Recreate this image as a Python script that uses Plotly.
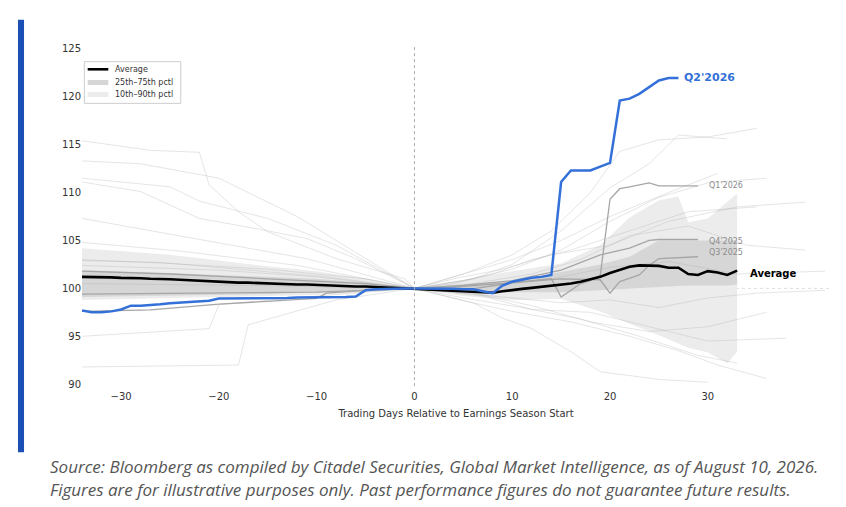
import plotly.graph_objects as go

# trading days relative to earnings season start
days = list(range(-34, 34))

avg_vals = [101.2, 101.2, 101.15, 101.15, 101.1, 101.1, 101.05, 101.0, 101.0, 100.95,
            100.9, 100.85, 100.75, 100.7, 100.7, 100.65, 100.6, 100.6, 100.55, 100.5,
            100.5, 100.45, 100.4, 100.4, 100.35, 100.35, 100.3, 100.25, 100.2, 100.2,
            100.15, 100.1, 100.05, 100.0, 100.0, 99.95, 99.9, 99.85, 99.8, 99.75,
            99.65, 99.6, 99.55, 99.7, 99.85, 99.95, 100.05, 100.15, 100.3, 100.4,
            100.5, 100.7, 100.95, 101.2, 101.6, 101.95, 102.25, 102.4, 102.4, 102.35,
            102.15, 102.15, 101.5, 101.4, 101.8, 101.65, 101.4, 101.85]

q2_days = list(range(-34, 28))
q2_vals = [97.7, 97.5, 97.5, 97.6, 97.8, 98.2, 98.2, 98.25, 98.35, 98.45,
           98.5, 98.55, 98.65, 98.7, 98.95, 98.95, 98.95, 98.95, 98.95, 98.95,
           98.95, 99.0, 99.05, 99.05, 99.1, 99.1, 99.1, 99.1, 99.15, 99.8,
           99.9, 99.95, 100.0, 100.0, 100.0, 100.0, 100.0, 99.95, 99.95, 99.9,
           99.9, 99.7, 99.5, 100.3, 100.7, 100.9, 101.1, 101.2, 101.4, 111.1,
           112.3, 112.3, 112.3, 112.7, 113.1, 119.6, 119.8, 120.3, 121.0, 121.7,
           121.95, 121.95]

# percentile bands
band_days = [-34, -30, -25, -20, -15, -10, -5, 0, 5, 10, 15, 19, 22, 25, 27, 28, 30, 32, 33]
p90 = [104.2, 103.9, 103.5, 102.9, 102.3, 101.8, 101.0, 100.0, 100.9, 101.8,
       102.6, 104.5, 107.4, 109.2, 109.6, 106.9, 107.3, 109.0, 109.9]
p75 = [101.9, 101.8, 101.6, 101.4, 101.2, 101.0, 100.6, 100.0, 100.4, 100.8,
       101.7, 102.5, 103.3, 105.0, 105.0, 105.0, 105.0, 105.0, 105.0]
p25 = [99.1, 99.15, 99.2, 99.3, 99.4, 99.6, 99.8, 100.0, 99.7, 99.6,
       99.6, 99.8, 100.0, 100.1, 100.2, 100.3, 100.3, 100.3, 100.4]
p10 = [98.8, 98.9, 99.0, 99.1, 99.2, 99.3, 99.6, 100.0, 99.2, 98.8,
       98.9, 97.6, 96.3, 95.1, 94.2, 93.8, 93.3, 92.2, 93.4]

# highlighted recent quarters
q1_26_days = [-34, -27, -20, -10, -9, -5, 0, 5, 10, 14, 15, 16, 17, 18, 19, 20, 21, 22, 24, 25, 29]
q1_26_vals = [97.6, 97.75, 98.35, 98.95, 99.5, 99.8, 100.0, 99.8, 100.6, 101.0, 99.1,
              99.8, 100.5, 100.8, 101.3, 109.3, 110.4, 110.6, 111.0, 110.7, 110.7]
q4_25_days = [-34, -25, -15, -5, 0, 5, 10, 15, 19, 22, 24, 25, 29]
q4_25_vals = [101.8, 101.5, 101.0, 100.5, 100.0, 100.3, 100.8, 101.9, 103.5, 104.2, 105.0, 105.1, 105.1]
q3_25_days = [-34, -20, -10, -5, 0, 5, 10, 15, 19, 20, 21, 23, 24, 25, 29]
q3_25_vals = [99.4, 99.5, 99.6, 99.8, 100.0, 100.2, 100.6, 101.0, 100.9, 99.5, 100.7, 101.4, 102.4, 103.1, 103.3]

# older quarters, faint background lines
hist_lines = [
    ([-34, -27, -22, -21, -18, -15, -8, -1, 0], [115.4, 114.4, 114.2, 110.8, 108.0, 105.9, 103.1, 101.0, 100]),
    ([-34, -25, -22, -15, -8, 0], [111.5, 110.6, 109.1, 107.3, 104.5, 100]),
    ([-34, -28, -22, -16, -11, -6, 0], [111.1, 110.1, 107.3, 106.2, 105.2, 103.1, 100]),
    ([-34, -28, -21, -11, 0], [107.3, 106.2, 104.9, 103.1, 100]),
    ([-34, -21, -20, -10, 0], [95.0, 95.8, 98.3, 99.2, 100]),
    ([-34, -18, -17, -8, 0], [91.8, 92.0, 96.2, 98.8, 100]),
    ([-34, -25, -15, -5, 0], [103.0, 102.6, 102.0, 101.0, 100]),
    ([-34, -20, -10, 0], [102.4, 101.9, 101.2, 100]),
    ([-34, -24, -12, 0], [104.8, 103.9, 102.4, 100]),
    ([-34, -28, -20, -12, -4, 0], [113.3, 113.0, 111.5, 107.5, 102.5, 100]),
    ([-34, -26, -18, -9, 0], [102.9, 102.7, 102.0, 101.2, 100]),
    ([-34, -25, -16, -7, 0], [100.5, 100.4, 100.3, 100.1, 100]),
    ([0, 5, 10, 14, 18, 21, 25, 30, 35], [100, 101.5, 103.5, 106, 110, 114.3, 115.5, 115.8, 116.7]),
    ([0, 6, 10, 15, 20, 24, 27, 32], [100, 101, 102.5, 106, 110.5, 113, 116, 115.6]),
    ([0, 5, 10, 15, 20, 25, 30, 36], [100, 100.8, 102, 104, 107, 109.5, 111, 111.5]),
    ([0, 5, 10, 15, 20, 26, 31], [100, 101.5, 103, 105, 107.5, 110, 112]),
    ([0, 4, 8, 12, 16, 22, 28, 35], [100, 100.5, 101.5, 103, 104, 106, 108, 108.5]),
    ([0, 6, 12, 17, 22, 28, 34, 40], [100, 100.5, 101.5, 103, 105.5, 106.5, 104.5, 104]),
    ([0, 8, 14, 20, 26, 33, 42], [100, 100.2, 101, 102.2, 102.8, 101.5, 101.8]),
    ([0, 4, 9, 14, 20, 26, 33, 40], [100, 101, 102, 103.5, 104.5, 107, 108.5, 109]),
    ([0, 5, 10, 15, 20, 25, 30, 35, 42], [100, 99.5, 99, 98.5, 98.8, 98.0, 99, 99.5, 99.8]),
    ([0, 6, 12, 18, 24, 30, 36], [100, 99.5, 98.2, 96.5, 95.5, 96, 97.5]),
    ([0, 7, 12, 18, 24, 30, 38], [100, 99.2, 97.8, 97.5, 96, 94.5, 94.8]),
    ([0, 5, 11, 17, 23, 29, 33], [100, 99.0, 98.0, 96.8, 95.0, 93.0, 92.2]),
    ([0, 5, 10, 16, 22, 27, 31, 36], [100, 98.7, 97.6, 96.5, 95, 93.5, 92, 90.6]),
    ([0, 6, 9, 12, 16, 19, 25, 30], [100, 98.5, 96.9, 95.8, 93.4, 91.3, 90.5, 90.2]),
]

BLUE = "#3370d8"
GREY_Q = "#a6a6a6"
LIGHT_BAND = "#ececec"
DARK_BAND = "#d6d6d6"

fig = go.Figure()

# 10th-90th band
fig.add_trace(go.Scatter(x=band_days, y=p10, mode="lines", line=dict(width=0),
                         showlegend=False, hoverinfo="skip"))
fig.add_trace(go.Scatter(x=band_days, y=p90, mode="lines", line=dict(width=0),
                         fill="tonexty", fillcolor=LIGHT_BAND, showlegend=False))
# 25th-75th band
fig.add_trace(go.Scatter(x=band_days, y=p25, mode="lines", line=dict(width=0),
                         showlegend=False, hoverinfo="skip"))
fig.add_trace(go.Scatter(x=band_days, y=p75, mode="lines", line=dict(width=0),
                         fill="tonexty", fillcolor=DARK_BAND, showlegend=False))

for hx, hy in hist_lines:
    fig.add_trace(go.Scatter(x=hx, y=hy, mode="lines",
                             line=dict(color="rgba(170,170,170,0.3)", width=1),
                             showlegend=False, hoverinfo="skip"))

for qx, qy in [(q3_25_days, q3_25_vals), (q4_25_days, q4_25_vals), (q1_26_days, q1_26_vals)]:
    fig.add_trace(go.Scatter(x=qx, y=qy, mode="lines", line=dict(color=GREY_Q, width=1.3),
                             showlegend=False))

fig.add_trace(go.Scatter(x=days, y=avg_vals, mode="lines", line=dict(color="black", width=2.6),
                         showlegend=False))
fig.add_trace(go.Scatter(x=q2_days, y=q2_vals, mode="lines", line=dict(color=BLUE, width=2.5),
                         showlegend=False))

# reference lines
fig.add_shape(type="line", x0=0, x1=0, y0=89.8, y1=125.3, xref="x", yref="y",
              line=dict(color="#aaaaaa", width=1, dash="dot"))
fig.add_shape(type="line", x0=-34, x1=42.5, y0=100, y1=100, xref="x", yref="y",
              line=dict(color="#dddddd", width=1, dash="dot"), layer="below")

# blue accent bar at left
fig.add_shape(type="rect", xref="paper", yref="paper", x0=-0.0856, x1=-0.0775,
              y0=-0.183, y1=1.07, fillcolor="#1c4fb4", line=dict(width=0))

# legend box drawn by hand (compact, matplotlib style)
fig.add_shape(type="rect", xref="paper", yref="paper", x0=0.0031, x1=0.132,
              y0=0.828, y1=0.9487, fillcolor="white", line=dict(color="#cccccc", width=1))
fig.add_shape(type="line", xref="paper", yref="paper", x0=0.0076, x1=0.0352,
              y0=0.9267, y1=0.9267, line=dict(color="black", width=2.6))
fig.add_shape(type="rect", xref="paper", yref="paper", x0=0.0076, x1=0.0352,
              y0=0.881, y1=0.8957, fillcolor=DARK_BAND, line=dict(width=0))
fig.add_shape(type="rect", xref="paper", yref="paper", x0=0.0076, x1=0.0352,
              y0=0.8464, y1=0.8609, fillcolor=LIGHT_BAND, line=dict(width=0))
for ly, txt in [(0.9267, "Average"), (0.889, "25th–75th pctl"), (0.8536, "10th–90th pctl")]:
    fig.add_annotation(x=0.0414, y=ly, xref="paper", yref="paper", text=txt,
                       showarrow=False, xanchor="left", yanchor="middle",
                       font=dict(size=8, color="#333333"))

labels = [
    (27.4, 122.0, "<b>Q2'2026</b>", BLUE, 11),
    (29.9, 110.75, "Q1'2026", "#8c8c8c", 8),
    (29.9, 104.85, "Q4'2025", "#8c8c8c", 8),
    (29.9, 103.75, "Q3'2025", "#8c8c8c", 8),
    (34.1, 101.6, "<b>Average</b>", "black", 10),
]
for lx, ly, txt, col, sz in labels:
    fig.add_annotation(x=lx, y=ly, text=txt, showarrow=False, xanchor="left",
                       yanchor="middle", font=dict(color=col, size=sz))

captions = [
    "Source: Bloomberg as compiled by Citadel Securities, Global Market Intelligence, as of August 10, 2026.",
    "Figures are for illustrative purposes only. Past performance figures do not guarantee future results.",
]
for i, cap in enumerate(captions):
    fig.add_annotation(x=-0.0455, y=-0.2232 - 0.0667 * i, xref="paper", yref="paper",
                       text="<i>" + cap + "</i>", showarrow=False, xanchor="left",
                       yanchor="middle", font=dict(family="Open Sans", size=17, color="#555555"))

# page body has an 8px margin, so the figure is a bit smaller and shifted
fig.update_layout(
    width=838, height=499,
    margin=dict(l=74, r=16, t=36, b=118),
    paper_bgcolor="white", plot_bgcolor="white",
    font=dict(family="DejaVu Sans", size=10, color="#333333"),
    showlegend=False,
    xaxis=dict(range=[-34, 42.5], tickvals=[-30, -20, -10, 0, 10, 20, 30],
               showgrid=False, zeroline=False, showline=False, ticks="",
               title=dict(text="Trading Days Relative to Earnings Season Start",
                          font=dict(size=10), standoff=8)),
    yaxis=dict(range=[89.5, 125.5], tickvals=[90, 95, 100, 105, 110, 115, 120, 125],
               showgrid=False, zeroline=False, showline=False, ticks=""),
)

fig.write_html("out.html")
